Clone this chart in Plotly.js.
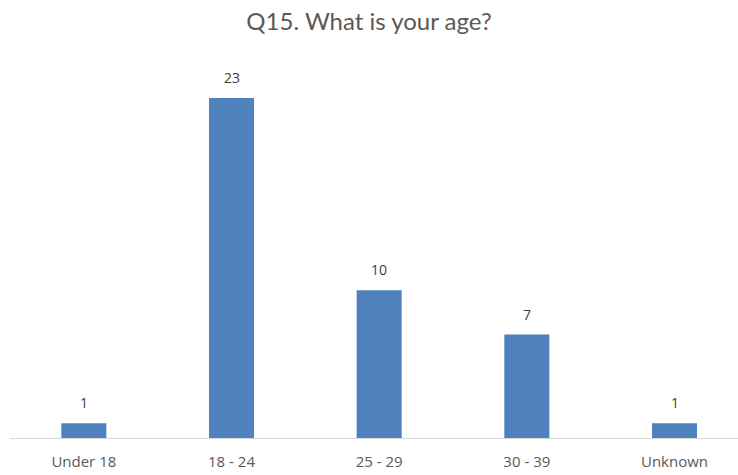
<!DOCTYPE html>
<html>
<head>
<meta charset="utf-8">
<script src="https://cdn.plot.ly/plotly-3.0.1.min.js"></script>
<style>html,body{margin:0;padding:0;background:#fff;}#chart{width:738px;height:475px;}</style>
</head>
<body>
<div id="chart"></div>
<script>
const categories = ["Under 18", "18 - 24", "25 - 29", "30 - 39", "Unknown"];
const counts = [1, 23, 10, 7, 1];
const chartTitle = "Q15. What is your age?";

const trace = {
  type: "bar",
  x: categories,
  y: counts,
  marker: {color: "#4F81BD"},
  width: 0.305,
  hoverinfo: "x+y"
};

const labelAnnotations = categories.map((c, i) => ({
  x: c, y: counts[i], xref: "x", yref: "y",
  text: String(counts[i]),
  showarrow: false,
  xanchor: "center", yanchor: "bottom",
  yshift: 9,
  font: {family: "'Open Sans', sans-serif", size: 14, color: "#404040"}
}));

const layout = {
  width: 738, height: 475,
  margin: {l: 10, r: 0, t: 60, b: 37},
  paper_bgcolor: "#ffffff",
  plot_bgcolor: "#ffffff",
  title: {
    text: chartTitle,
    font: {family: "Lato, 'Open Sans', sans-serif", size: 24, color: "#595959"},
    x: 0.5, xanchor: "center", y: 0.955, yanchor: "middle"
  },
  showlegend: false,
  annotations: labelAnnotations,
  xaxis: {
    type: "category",
    range: [-0.5, 4.43],
    showline: true, linecolor: "#d9d9d9", linewidth: 1,
    showgrid: false, zeroline: false,
    ticks: "outside", ticklen: 10, tickcolor: "rgba(0,0,0,0)",
    tickfont: {family: "'Open Sans', sans-serif", size: 15, color: "#595959"}
  },
  yaxis: {
    range: [0, 25.57],
    visible: false, showgrid: false, zeroline: false
  },
  bargap: 0.7
};

Plotly.newPlot("chart", [trace], layout, {displayModeBar: false, staticPlot: true});
</script>
</body>
</html>
